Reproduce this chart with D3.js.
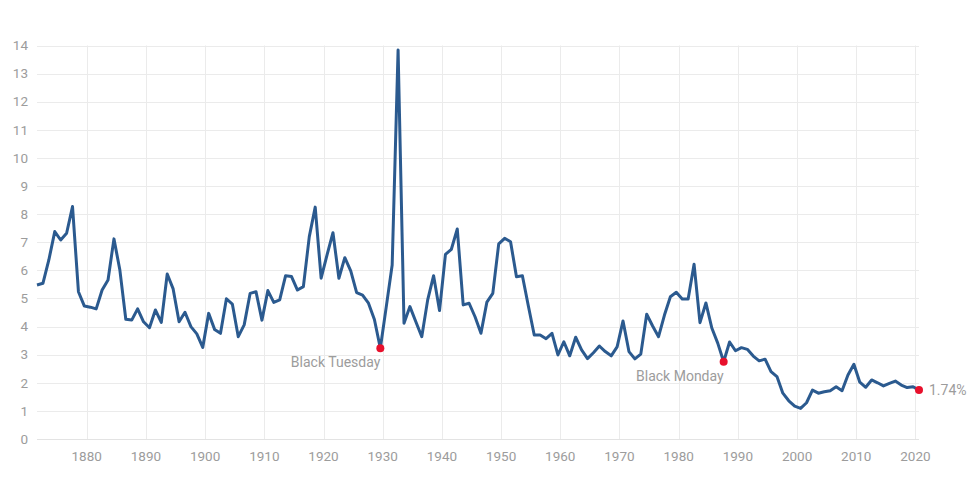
<!DOCTYPE html>
<html>
<head>
<meta charset="utf-8">
<script src="https://cdn.jsdelivr.net/npm/d3@7"></script>
<style>
  body { margin: 0; background: #fff; }
  svg { display: block; font-family: Roboto, "Liberation Sans", Arial, sans-serif; }
  .grid line { stroke: #ebebeb; stroke-width: 1; }
  .tick-label { fill: #9c9c9c; font-size: 13.5px; }
  .note { fill: #9c9c9c; font-size: 14px; }
</style>
</head>
<body>
<svg id="chart" width="974" height="477"></svg>
<script>
// annual S&P 500 dividend yield, %, 1871 - 2020
var years = d3.range(1871, 2021);
var yields = [
  5.48, 5.54, 6.37, 7.38, 7.08, 7.32, 8.27, 5.24, 4.73,           // 1871-1879
  4.69, 4.63, 5.30, 5.66, 7.12, 6.01, 4.26, 4.23, 4.63, 4.17,     // 1880s
  3.96, 4.59, 4.15, 5.87, 5.34, 4.17, 4.51, 4.00, 3.74, 3.26,     // 1890s
  4.47, 3.90, 3.76, 4.99, 4.80, 3.64, 4.06, 5.18, 5.24, 4.23,     // 1900s
  5.28, 4.86, 4.95, 5.81, 5.78, 5.30, 5.42, 7.20, 8.25, 5.72,     // 1910s
  6.55, 7.34, 5.72, 6.45, 5.98, 5.21, 5.12, 4.83, 4.25, 3.23,     // 1920s
  4.70, 6.19, 13.84, 4.12, 4.71, 4.17, 3.64, 4.95, 5.81, 4.57,    // 1930s
  6.57, 6.75, 7.47, 4.77, 4.83, 4.35, 3.76, 4.87, 5.18, 6.94,     // 1940s
  7.14, 7.02, 5.77, 5.81, 4.74, 3.70, 3.70, 3.57, 3.76, 2.99,     // 1950s
  3.46, 2.96, 3.62, 3.17, 2.86, 3.07, 3.31, 3.11, 2.96, 3.28,     // 1960s
  4.20, 3.11, 2.85, 3.02, 4.44, 4.02, 3.64, 4.41, 5.06, 5.22,     // 1970s
  4.98, 4.98, 6.22, 4.14, 4.84, 3.95, 3.41, 2.75, 3.45, 3.14,     // 1980s
  3.25, 3.19, 2.95, 2.78, 2.84, 2.40, 2.22, 1.63, 1.36, 1.17,     // 1990s
  1.09, 1.29, 1.74, 1.63, 1.68, 1.72, 1.86, 1.72, 2.28, 2.66,     // 2000s
  2.02, 1.84, 2.10, 2.00, 1.89, 1.98, 2.06, 1.92, 1.83, 1.86,     // 2010s
  1.74                                                            // 2020
];
var xTicks = d3.range(1880, 2021, 10);
var yTicks = d3.range(0, 15, 1);
var notes = [
  { year: 1929, text: "Black Tuesday" },
  { year: 1987, text: "Black Monday" }
];

// readings sit a little past the start of each year
var offset = 0.6;
var data = years.map(function(y, i) { return { year: y, t: y + offset, v: yields[i] }; });

var svg = d3.select("#chart");
var margin = { left: 37, right: 55, top: 45.5, bottom: 38 };
var width = 974, height = 477;

var x = d3.scaleLinear()
    .domain([years[0] + offset, years[years.length - 1] + offset])
    .range([margin.left, width - margin.right]);
var y = d3.scaleLinear()
    .domain([0, 14])
    .range([height - margin.bottom, margin.top]);

// grid
var grid = svg.append("g").attr("class", "grid");
grid.selectAll("line.h").data(yTicks).enter().append("line")
    .attr("class", "h")
    .attr("x1", x.range()[0]).attr("x2", x.range()[1])
    .attr("y1", function(d) { return Math.round(y(d)) + 0.5; })
    .attr("y2", function(d) { return Math.round(y(d)) + 0.5; })
    .style("stroke", function(d) { return d === 0 ? "#e3e3e3" : null; });
grid.selectAll("line.v").data(xTicks).enter().append("line")
    .attr("class", "v")
    .attr("x1", function(d) { return Math.round(x(d)) + 0.5; })
    .attr("x2", function(d) { return Math.round(x(d)) + 0.5; })
    .attr("y1", y(14)).attr("y2", y(0));

// axis labels
svg.append("g").selectAll("text").data(yTicks).enter().append("text")
    .attr("class", "tick-label")
    .attr("x", 28)
    .attr("y", function(d) { return y(d); })
    .attr("dy", "0.35em")
    .attr("text-anchor", "end")
    .text(function(d) { return d; });
svg.append("g").selectAll("text").data(xTicks).enter().append("text")
    .attr("class", "tick-label")
    .attr("x", function(d) { return x(d); })
    .attr("y", y(0) + 17)
    .attr("dy", "0.35em")
    .attr("text-anchor", "middle")
    .text(function(d) { return d; });

// line
var line = d3.line()
    .x(function(d) { return x(d.t); })
    .y(function(d) { return y(d.v); });
svg.append("path")
    .datum(data)
    .attr("fill", "none")
    .attr("stroke", "#2b5a8f")
    .attr("stroke-width", 3)
    .attr("stroke-linejoin", "round")
    .attr("d", line);

// highlighted points
var marks = notes.map(function(n) {
  var d = data[years.indexOf(n.year)];
  return { t: d.t, v: d.v, text: n.text };
});
marks.forEach(function(m) {
  svg.append("circle")
      .attr("cx", x(m.t)).attr("cy", y(m.v)).attr("r", 4)
      .attr("fill", "#e8102c");
  svg.append("text")
      .attr("class", "note")
      .attr("x", x(m.t))
      .attr("y", y(m.v) + 14)
      .attr("dy", "0.35em")
      .attr("text-anchor", "end")
      .text(m.text);
});

var last = data[data.length - 1];
svg.append("circle")
    .attr("cx", x(last.t)).attr("cy", y(last.v)).attr("r", 4)
    .attr("fill", "#e8102c");
svg.append("text")
    .attr("class", "note")
    .attr("x", x(last.t) + 10)
    .attr("y", y(last.v))
    .attr("dy", "0.35em")
    .text(last.v.toFixed(2) + "%");
</script>
</body>
</html>
